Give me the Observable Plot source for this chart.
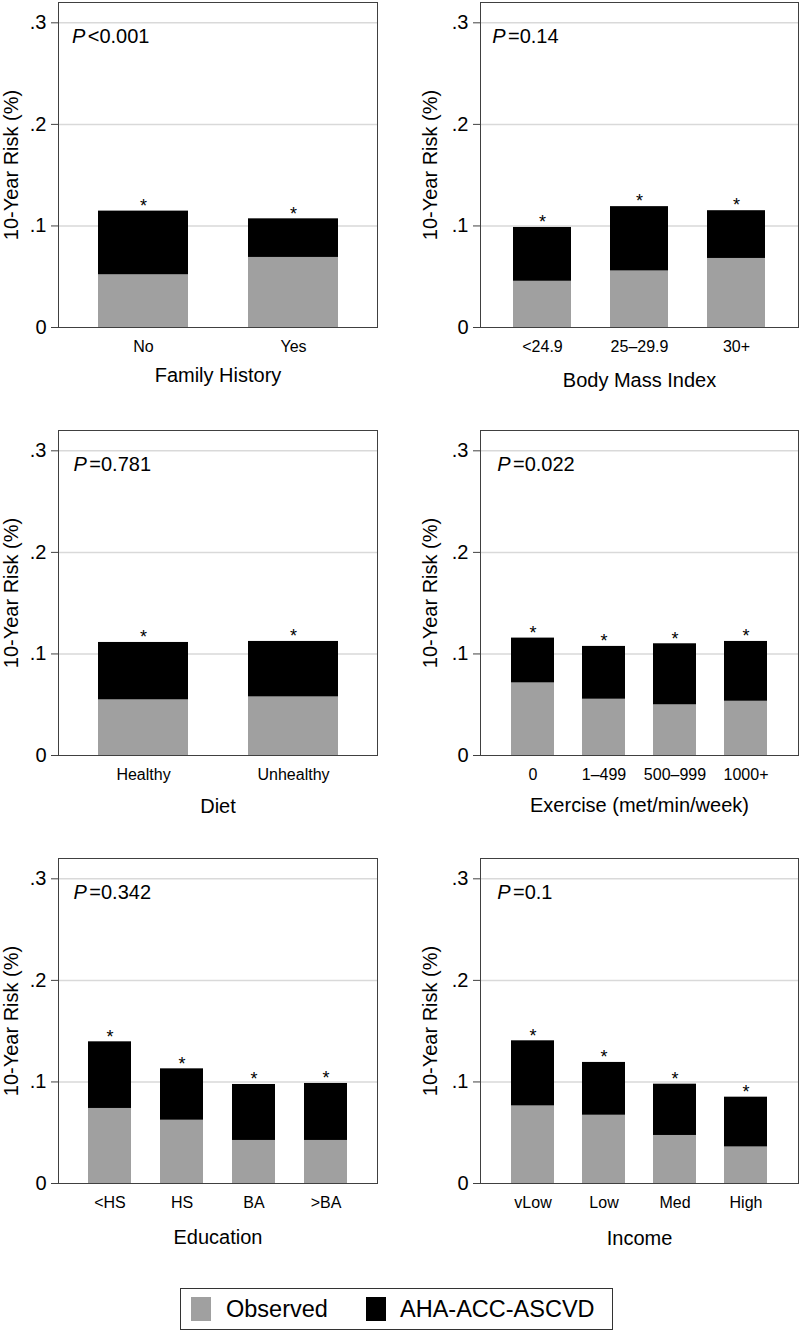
<!DOCTYPE html>
<html>
<head>
<meta charset="utf-8">
<script src="https://cdn.jsdelivr.net/npm/d3@7"></script>
<script src="https://cdn.jsdelivr.net/npm/@observablehq/plot@0.6"></script>
<style>
  html, body { margin: 0; padding: 0; background: #fff; }
  #root { position: relative; width: 800px; height: 1333px; font-family: "Liberation Sans", Arial, Helvetica, sans-serif; }
  #root svg { position: absolute; }
</style>
</head>
<body>
<div id="root"></div>
<script>
// ---- data ----
const famCats = ["No", "Yes"];
const famObserved = [0.052, 0.069];
const famPredicted = [0.1146, 0.107];

const bmiCats = ["<24.9", "25–29.9", "30+"];
const bmiObserved = [0.0456, 0.0558, 0.068];
const bmiPredicted = [0.0985, 0.119, 0.115];

const dietCats = ["Healthy", "Unhealthy"];
const dietObserved = [0.0549, 0.0578];
const dietPredicted = [0.1113, 0.1123];

const exCats = ["0", "1–499", "500–999", "1000+"];
const exObserved = [0.0716, 0.0555, 0.050, 0.0535];
const exPredicted = [0.1156, 0.1074, 0.110, 0.1123];

const eduCats = ["<HS", "HS", "BA", ">BA"];
const eduObserved = [0.0739, 0.0624, 0.0424, 0.0424];
const eduPredicted = [0.1395, 0.1129, 0.0975, 0.0985];

const incCats = ["vLow", "Low", "Med", "High"];
const incObserved = [0.0765, 0.0673, 0.0473, 0.0361];
const incPredicted = [0.1405, 0.1192, 0.0978, 0.085];

const pValues = ["<0.001", "=0.14", "=0.781", "=0.022", "=0.342", "=0.1"];
const xTitles = ["Family History", "Body Mass Index", "Diet", "Exercise (met/min/week)", "Education", "Income"];
const yTitle = "10-Year Risk (%)";
const yTicks = [0, 0.1, 0.2, 0.3];
const legendLabels = ["Observed", "AHA-ACC-ASCVD"];
const colors = {observed: "#a0a0a0", predicted: "#000000"};

// ---- drawing ----
const FONT = '"Liberation Sans", Arial, Helvetica, sans-serif';
const fmt = d => d === 0 ? "0" : d3.format(".1f")(d).replace(/^0/, "");

function panel(cats, obs, pred, p, title, o) {
  const data = cats.map((c, i) => ({cat: c, observed: obs[i], predicted: pred[i]}));
  const svg = Plot.plot({
    width: 400, height: 428,
    marginLeft: o.ml, marginRight: o.mr, marginTop: 2, marginBottom: 101,
    style: {fontFamily: FONT, background: "transparent", overflow: "visible", color: "#000"},
    x: {domain: cats, paddingInner: 0.4, paddingOuter: o.po, label: null},
    y: {domain: [0, 0.32], label: null},
    marks: [
      Plot.gridY(yTicks.slice(1), {stroke: "#d9d9d9", strokeOpacity: 1, strokeWidth: 1.5}),
      Plot.barY(data, {x: "cat", y: "predicted", fill: colors.predicted}),
      Plot.barY(data, {x: "cat", y: "observed", fill: colors.observed}),
      Plot.text(data, {x: "cat", y: "predicted", text: () => "*", fontSize: 18, dy: -5, fill: "#000"}),
      Plot.frame({stroke: "#404040", strokeWidth: 1}),
      Plot.axisY({ticks: yTicks, tickFormat: fmt, fontSize: 20, tickSize: 7, tickPadding: 5, stroke: "#404040", fill: "#000", label: null}),
      Plot.axisX({tickSize: 0, tickPadding: 13, fontSize: 16, fill: "#000", label: null}),
      Plot.text([title], {text: d => d, frameAnchor: "bottom", textAnchor: "middle", lineAnchor: "top", dy: o.tdy, fontSize: 20, fill: "#000"}),
      Plot.text([yTitle], {text: d => d, frameAnchor: "left", textAnchor: "middle", rotate: -90, lineAnchor: "top", dx: -o.ydx, fontSize: 20, fill: "#000"}),
      Plot.text(["P"], {text: d => d, frameAnchor: "top-left", textAnchor: "start", lineAnchor: "top", dx: o.pdx, dy: 26, fontSize: 20, fontStyle: "italic", fill: "#000"}),
      Plot.text([p], {text: d => d, frameAnchor: "top-left", textAnchor: "start", lineAnchor: "top", dx: o.pdx + 15.8, dy: 26, fontSize: 20, fill: "#000"})
    ]
  });
  svg.style.left = o.left + "px";
  svg.style.top = o.top + "px";
  return svg;
}

const L = {ml: 58, mr: 23, ydx: 55, left: 0};
const R = {ml: 80, mr: 2, ydx: 58, left: 400};
const root = document.getElementById("root");
const specs = [
  [famCats, famObserved, famPredicted, {...L, top: 0, po: 0.26, tdy: 40, pdx: 13.4}],
  [bmiCats, bmiObserved, bmiPredicted, {...R, top: 0, po: 0.335, tdy: 45, pdx: 11.7}],
  [dietCats, dietObserved, dietPredicted, {...L, top: 428, po: 0.26, tdy: 43, pdx: 15}],
  [exCats, exObserved, exPredicted, {...R, top: 428, po: 0.417, tdy: 42, pdx: 16.7}],
  [eduCats, eduObserved, eduPredicted, {...L, top: 856, po: 0.41, tdy: 46, pdx: 15}],
  [incCats, incObserved, incPredicted, {...R, top: 856, po: 0.417, tdy: 47, pdx: 16.7}]
];
specs.forEach(([c, ob, pr, o], i) => root.appendChild(panel(c, ob, pr, pValues[i], xTitles[i], o)));

// legend
const legend = document.createElement("div");
legend.style.cssText = "position:absolute;left:180px;top:1288px;width:433px;height:42px;border:1px solid #333;box-sizing:border-box;";
const swatchX = [10, 185];
const textX = [45, 219];
const sw = [colors.observed, colors.predicted];
legendLabels.forEach((lab, i) => {
  const s = document.createElement("div");
  s.style.cssText = `position:absolute;left:${swatchX[i]}px;top:8px;width:20px;height:24px;background:${sw[i]};`;
  legend.appendChild(s);
  const t = document.createElement("div");
  t.textContent = lab;
  t.style.cssText = `position:absolute;left:${textX[i]}px;top:6px;font-size:23.5px;line-height:28px;color:#000;white-space:nowrap;`;
  legend.appendChild(t);
});
root.appendChild(legend);
</script>
</body>
</html>
